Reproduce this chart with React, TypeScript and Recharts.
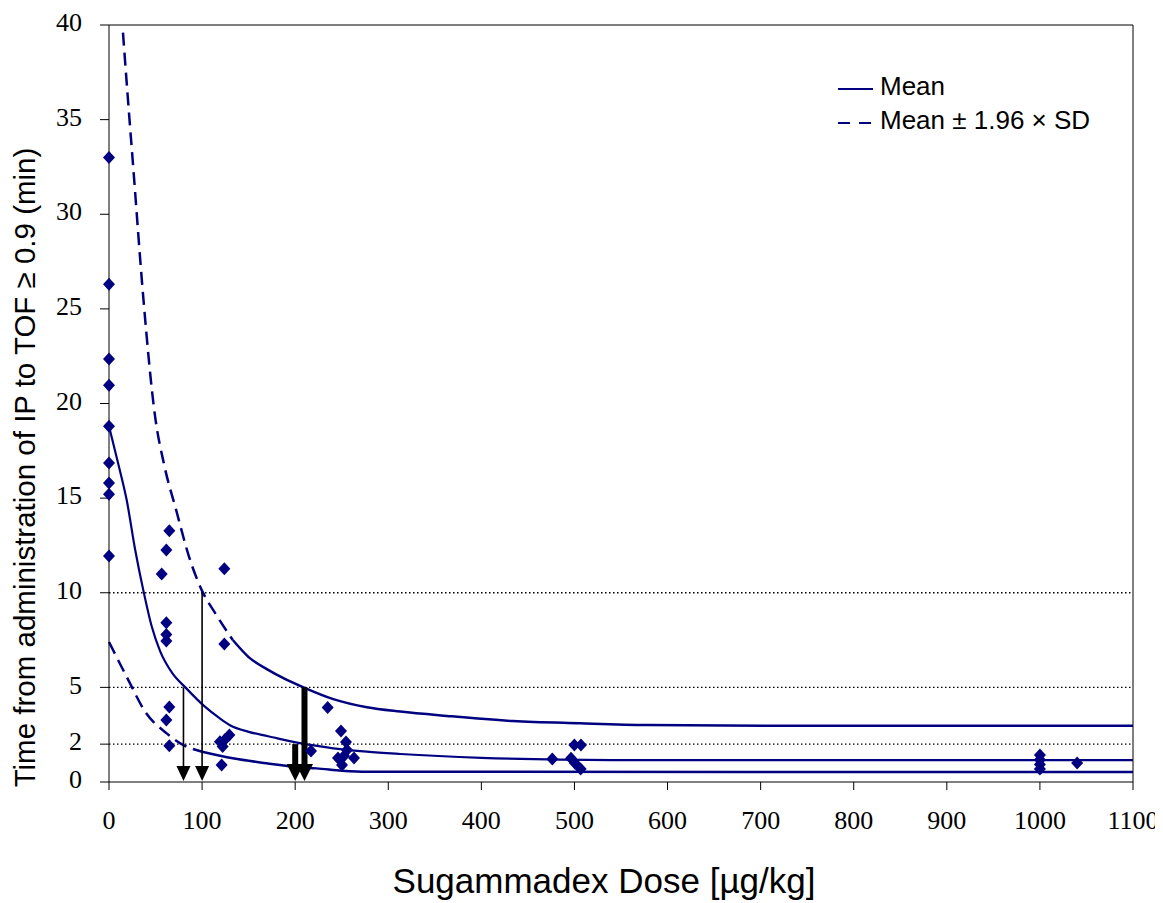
import React from "react";
import {
  ComposedChart,
  Line,
  Scatter,
  XAxis,
  YAxis,
  ReferenceLine,
  Legend,
  Label,
} from "recharts";

const xTicks = [0, 100, 200, 300, 400, 500, 600, 700, 800, 900, 1000, 1100];
const yTicks = [0, 2, 5, 10, 15, 20, 25, 30, 35, 40];
const dottedLevels = [2, 5, 10];

// observed recovery times (dose, minutes)
const observed = [
  { x: 0, y: 33.0 }, { x: 0, y: 26.3 }, { x: 0, y: 22.35 }, { x: 0, y: 20.97 },
  { x: 0, y: 18.8 }, { x: 0, y: 16.85 }, { x: 0, y: 15.8 }, { x: 0, y: 15.2 },
  { x: 0, y: 11.94 },
  { x: 64.8, y: 13.27 }, { x: 61.6, y: 12.26 }, { x: 56.6, y: 10.99 },
  { x: 61.6, y: 8.42 }, { x: 61.6, y: 7.8 }, { x: 61.6, y: 7.45 },
  { x: 64.8, y: 3.96 }, { x: 61.6, y: 3.28 }, { x: 64.8, y: 1.92 },
  { x: 123.9, y: 11.27 }, { x: 123.9, y: 7.29 }, { x: 129.3, y: 2.48 },
  { x: 124.6, y: 2.25 }, { x: 119.2, y: 2.13 }, { x: 122.1, y: 1.87 },
  { x: 121, y: 0.9 },
  { x: 234.9, y: 3.94 }, { x: 217, y: 1.64 }, { x: 249.2, y: 2.69 },
  { x: 254.6, y: 2.11 }, { x: 246, y: 1.27 }, { x: 252.4, y: 1.37 },
  { x: 255.7, y: 1.69 }, { x: 263.2, y: 1.27 }, { x: 250.3, y: 0.9 },
  { x: 499.9, y: 1.95 }, { x: 507, y: 1.95 }, { x: 476.2, y: 1.21 },
  { x: 496.3, y: 1.25 }, { x: 500.6, y: 0.99 }, { x: 506.7, y: 0.69 },
  { x: 1000, y: 1.43 }, { x: 1000, y: 1.18 }, { x: 1000, y: 0.93 },
  { x: 1000, y: 0.69 }, { x: 1040, y: 1.0 },
];

const meanCurve = [
  { x: 0, y: 18.8 }, { x: 10, y: 16.8 }, { x: 19, y: 14.9 }, { x: 28, y: 12.3 },
  { x: 37, y: 10.1 }, { x: 46, y: 8.2 }, { x: 55, y: 6.9 }, { x: 68, y: 5.75 },
  { x: 82, y: 5.0 }, { x: 103, y: 3.98 }, { x: 118, y: 3.4 }, { x: 130, y: 3.0 },
  { x: 150, y: 2.65 }, { x: 171, y: 2.42 }, { x: 205, y: 2.05 }, { x: 241, y: 1.78 },
  { x: 277, y: 1.6 }, { x: 313, y: 1.48 }, { x: 400, y: 1.28 }, { x: 540, y: 1.16 },
  { x: 1100, y: 1.16 },
];

const upperDashed = [
  { x: 15, y: 39.6 }, { x: 20, y: 36.3 }, { x: 26, y: 32.5 }, { x: 37, y: 25.5 },
  { x: 49, y: 19.5 }, { x: 60, y: 16.6 }, { x: 72, y: 14.4 }, { x: 86, y: 11.9 },
  { x: 100, y: 10.1 }, { x: 115, y: 8.85 }, { x: 133, y: 7.5 },
];
const upperSolid = [
  { x: 133, y: 7.5 }, { x: 150, y: 6.6 }, { x: 170, y: 5.95 }, { x: 190, y: 5.42 },
  { x: 209, y: 5.0 }, { x: 241, y: 4.38 }, { x: 277, y: 3.95 }, { x: 313, y: 3.72 },
  { x: 363, y: 3.49 }, { x: 434, y: 3.22 }, { x: 506, y: 3.1 }, { x: 578, y: 3.01 },
  { x: 721, y: 2.97 }, { x: 1100, y: 2.97 },
];

const lowerDashed = [
  { x: 0, y: 7.4 }, { x: 19, y: 5.56 }, { x: 40, y: 3.63 }, { x: 62, y: 2.57 },
  { x: 78, y: 2.0 }, { x: 91, y: 1.73 }, { x: 100, y: 1.6 },
];
const lowerSolid = [
  { x: 100, y: 1.6 }, { x: 133, y: 1.25 }, { x: 169, y: 0.99 }, { x: 205, y: 0.77 },
  { x: 223, y: 0.72 }, { x: 250, y: 0.6 }, { x: 277, y: 0.54 }, { x: 1100, y: 0.53 },
];

// vertical arrows from a curve down to the dose axis
const arrows = [
  { x: 80, y: 5, thick: false },
  { x: 100, y: 10, thick: false },
  { x: 200, y: 2, thick: true },
  { x: 210, y: 5, thick: true },
];

const legendItems = [
  { label: "Mean", dashed: false },
  { label: "Mean \u00b1 1.96 \u00d7 SD", dashed: true },
];

const NAVY = "#000080";
const SERIF = "'Liberation Serif', 'Times New Roman', serif";
const SANS = "'Liberation Sans', Arial, sans-serif";
const DASH = "13 7";

const W = 1155;
const H = 895;
const margin = { top: 17, right: 30, left: 21, bottom: 61 };
const Y_AXIS_W = 80;
const X_AXIS_H = 60;

const Diamond = (props: any) => {
  const { cx, cy } = props;
  if (cx == null || cy == null) return null;
  return (
    <polygon
      points={`${cx},${cy - 6.5} ${cx + 6},${cy} ${cx},${cy + 6.5} ${cx - 6},${cy}`}
      fill={NAVY}
    />
  );
};

const arrowShape = (thick: boolean) => (props: any) => {
  const { x1, y1, y2 } = props;
  const top = Math.min(y1, y2);
  const tip = Math.max(y1, y2) - 1;
  const hw = thick ? 8.5 : 7;
  const hh = thick ? 17 : 15;
  return (
    <g>
      <line x1={x1} y1={top} x2={x1} y2={tip - hh + 1} stroke="#000" strokeWidth={thick ? 6 : 1.6} />
      <polygon points={`${x1 - hw},${tip - hh} ${x1 + hw},${tip - hh} ${x1},${tip}`} fill="#000" />
    </g>
  );
};

const LegendBox = () => (
  <div style={{ fontFamily: SANS, fontSize: 26, color: "#000" }}>
    {legendItems.map((item) => (
      <div key={item.label} style={{ display: "flex", alignItems: "center", height: 34 }}>
        <svg width={36} height={10} style={{ display: "block" }}>
          <line
            x1={0}
            y1={5}
            x2={35}
            y2={5}
            stroke={NAVY}
            strokeWidth={2}
            strokeDasharray={item.dashed ? "12 9" : undefined}
          />
        </svg>
        <span style={{ marginLeft: 6, whiteSpace: "nowrap", position: "relative", top: -3 }}>
          {item.label}
        </span>
      </div>
    ))}
  </div>
);

const plotLeft = margin.left + Y_AXIS_W;
const plotRight = W - margin.right;
const plotTop = margin.top;
const plotBottom = H - margin.bottom - X_AXIS_H;

const XTitle = () => (
  <text
    x={(plotLeft + plotRight) / 2 - 17}
    y={plotBottom + 111}
    textAnchor="middle"
    fontFamily={SANS}
    fontSize={35}
    fill="#000"
  >
    Sugammadex Dose [µg/kg]
  </text>
);

const YTitle = () => {
  const cx = 27;
  const cy = (plotTop + plotBottom) / 2 + 64;
  return (
    <text
      x={cx}
      y={cy}
      transform={`rotate(-90 ${cx} ${cy})`}
      textAnchor="middle"
      fontFamily={SANS}
      fontSize={29.5}
      fill="#000"
    >
      Time from administration of IP to TOF ≥ 0.9 (min)
    </text>
  );
};

export default function App() {
  return (
    <ComposedChart width={W} height={H} margin={margin}>
      <XAxis
        type="number"
        dataKey="x"
        domain={[0, 1100]}
        ticks={xTicks}
        interval={0}
        height={X_AXIS_H}
        tickSize={8}
        tickMargin={21}
        axisLine={{ stroke: "#000" }}
        tickLine={{ stroke: "#000" }}
        tick={{ fontSize: 26, fill: "#000", fontFamily: SERIF }}
        label={<Label content={XTitle} />}
      />
      <YAxis
        type="number"
        dataKey="y"
        domain={[0, 40]}
        ticks={yTicks}
        interval={0}
        width={Y_AXIS_W}
        tickSize={9}
        tickMargin={18}
        axisLine={{ stroke: "#000" }}
        tickLine={{ stroke: "#000" }}
        tick={{ fontSize: 26, fill: "#000", fontFamily: SERIF, dy: -3 }}
        label={<Label content={YTitle} />}
      />
      {dottedLevels.map((v) => (
        <ReferenceLine key={v} y={v} stroke="#000" strokeWidth={1.4} strokeDasharray="1.5 2.5" />
      ))}
      <ReferenceLine y={40} stroke="#000" strokeWidth={1} />
      <ReferenceLine x={1100} stroke="#000" strokeWidth={1} />

      <Line data={meanCurve} dataKey="y" type="monotone" stroke={NAVY} strokeWidth={2.2} dot={false} isAnimationActive={false} legendType="none" />
      <Line data={upperDashed} dataKey="y" type="monotone" stroke={NAVY} strokeWidth={2.5} strokeDasharray={DASH} dot={false} isAnimationActive={false} legendType="none" />
      <Line data={upperSolid} dataKey="y" type="monotone" stroke={NAVY} strokeWidth={2.5} dot={false} isAnimationActive={false} legendType="none" />
      <Line data={lowerDashed} dataKey="y" type="monotone" stroke={NAVY} strokeWidth={2.5} strokeDasharray={DASH} dot={false} isAnimationActive={false} legendType="none" />
      <Line data={lowerSolid} dataKey="y" type="monotone" stroke={NAVY} strokeWidth={2.5} dot={false} isAnimationActive={false} legendType="none" />

      <Scatter data={observed} dataKey="y" shape={Diamond} isAnimationActive={false} legendType="none" />

      {arrows.map((a) => (
        <ReferenceLine
          key={a.x}
          segment={[{ x: a.x, y: a.y }, { x: a.x, y: 0 }]}
          shape={arrowShape(a.thick)}
        />
      ))}

      <Legend
        layout="vertical"
        align="center"
        verticalAlign="middle"
        content={LegendBox}
        wrapperStyle={{ top: 64, left: 830, width: 320 }}
      />
    </ComposedChart>
  );
}
